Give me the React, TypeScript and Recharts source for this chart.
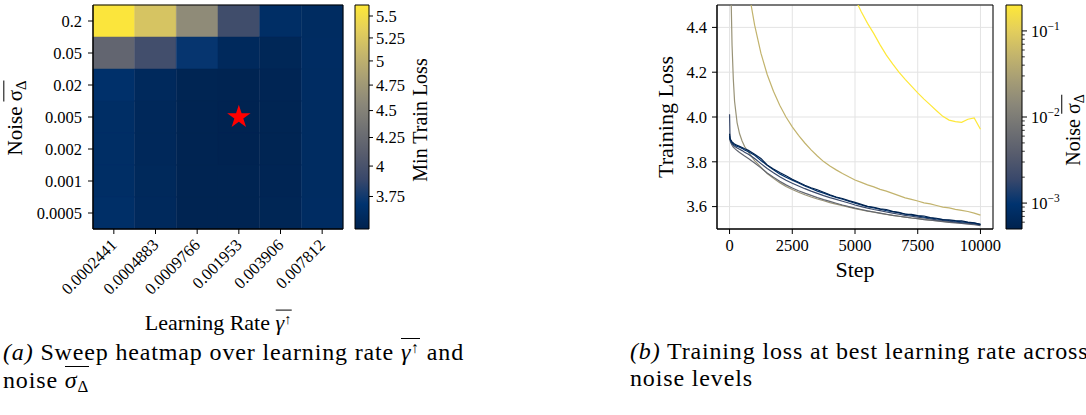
import React from 'react';
import {
  ScatterChart,
  ComposedChart,
  XAxis,
  YAxis,
  Scatter,
  Line,
  ReferenceArea,
  CartesianGrid,
  Symbols,
} from 'recharts';

const FONT = '"Liberation Serif", "Times New Roman", serif';

// ---------- (a) heatmap data ----------
const learningRates = ['0.0002441', '0.0004883', '0.0009766', '0.001953', '0.003906', '0.007812'];
const noiseLevels = ['0.2', '0.05', '0.02', '0.005', '0.002', '0.001', '0.0005'];
const minLossNoise0_2 = [5.6, 5.22, 4.6, 3.94, 3.63, 3.61];
const minLossNoise0_05 = [4.2, 3.95, 3.71, 3.58, 3.55, 3.615];
const minLossNoise0_02 = [3.66, 3.58, 3.53, 3.525, 3.535, 3.615];
const minLossNoise0_005 = [3.63, 3.57, 3.52, 3.515, 3.53, 3.61];
const minLossNoise0_002 = [3.63, 3.57, 3.52, 3.515, 3.53, 3.61];
const minLossNoise0_001 = [3.63, 3.575, 3.52, 3.52, 3.535, 3.61];
const minLossNoise0_0005 = [3.64, 3.58, 3.525, 3.525, 3.54, 3.615];
const bestLr = '0.001953';
const bestNoise = '0.005';
const lossColorTicks = [3.75, 4, 4.25, 4.5, 4.75, 5, 5.25, 5.5];
const lossColorDomain: [number, number] = [3.5, 5.63];

// ---------- (b) training loss curves ----------
const steps = [0, 20, 50, 100, 150, 200, 300, 400, 500, 600, 750, 1000, 1250, 1500, 1750, 2000, 2250, 2500, 2750, 3000, 3250, 3500, 3750, 4000, 4250, 4500, 4750, 5000, 5250, 5500, 5750, 6000, 6250, 6500, 6750, 7000, 7250, 7500, 7750, 8000, 8250, 8500, 8750, 9000, 9250, 9500, 9750, 10000];
const lossNoise0_0005 = [3.925, 3.905, 3.898, 3.889, 3.884, 3.879, 3.874, 3.869, 3.864, 3.858, 3.851, 3.834, 3.815, 3.786, 3.768, 3.752, 3.738, 3.722, 3.709, 3.695, 3.684, 3.675, 3.664, 3.653, 3.643, 3.636, 3.627, 3.619, 3.61, 3.601, 3.597, 3.59, 3.587, 3.579, 3.574, 3.567, 3.565, 3.56, 3.558, 3.551, 3.548, 3.542, 3.541, 3.537, 3.536, 3.531, 3.528, 3.521];
const lossNoise0_001 = [3.915, 3.9, 3.893, 3.885, 3.879, 3.875, 3.869, 3.865, 3.86, 3.853, 3.845, 3.829, 3.806, 3.784, 3.765, 3.746, 3.731, 3.718, 3.705, 3.692, 3.681, 3.669, 3.66, 3.65, 3.641, 3.633, 3.624, 3.615, 3.607, 3.6, 3.594, 3.588, 3.582, 3.577, 3.572, 3.566, 3.562, 3.558, 3.553, 3.549, 3.545, 3.542, 3.538, 3.535, 3.532, 3.529, 3.526, 3.521];
const lossNoise0_002 = [4.012, 3.905, 3.89, 3.88, 3.874, 3.869, 3.862, 3.856, 3.85, 3.843, 3.834, 3.815, 3.792, 3.77, 3.751, 3.733, 3.718, 3.704, 3.692, 3.68, 3.669, 3.659, 3.649, 3.64, 3.632, 3.624, 3.616, 3.607, 3.6, 3.593, 3.587, 3.582, 3.576, 3.571, 3.566, 3.561, 3.557, 3.553, 3.549, 3.545, 3.541, 3.538, 3.535, 3.531, 3.528, 3.526, 3.523, 3.518];
const lossNoise0_005 = [3.905, 3.895, 3.885, 3.874, 3.866, 3.86, 3.85, 3.842, 3.834, 3.826, 3.815, 3.795, 3.773, 3.75, 3.731, 3.713, 3.697, 3.683, 3.671, 3.66, 3.65, 3.64, 3.631, 3.623, 3.615, 3.607, 3.6, 3.593, 3.587, 3.581, 3.576, 3.571, 3.566, 3.561, 3.557, 3.553, 3.549, 3.546, 3.542, 3.539, 3.536, 3.533, 3.53, 3.527, 3.525, 3.522, 3.519, 3.515];
const lossNoise0_02 = [6.2, 5.1, 4.6, 4.32, 4.17, 4.07, 3.975, 3.925, 3.893, 3.868, 3.843, 3.805, 3.776, 3.748, 3.726, 3.707, 3.69, 3.676, 3.664, 3.653, 3.643, 3.634, 3.626, 3.618, 3.611, 3.604, 3.598, 3.591, 3.585, 3.58, 3.575, 3.57, 3.565, 3.561, 3.557, 3.553, 3.549, 3.546, 3.543, 3.54, 3.537, 3.534, 3.532, 3.529, 3.527, 3.525, 3.522, 3.519];
const lossNoise0_05 = [7.5, 7.0, 6.6, 6.2, 5.95, 5.75, 5.45, 5.2, 5.0, 4.8, 4.57, 4.41, 4.285, 4.19, 4.115, 4.052, 4.0, 3.956, 3.918, 3.884, 3.853, 3.826, 3.801, 3.781, 3.764, 3.748, 3.733, 3.719, 3.708, 3.697, 3.688, 3.677, 3.669, 3.659, 3.649, 3.639, 3.632, 3.625, 3.617, 3.612, 3.605, 3.598, 3.594, 3.588, 3.583, 3.578, 3.571, 3.562];
const lossNoise0_2 = [8.0, 7.8, 7.6, 7.4, 7.25, 7.1, 6.9, 6.7, 6.55, 6.4, 6.2, 6.0, 5.85, 5.7, 5.58, 5.46, 5.35, 5.25, 5.15, 5.06, 4.98, 4.9, 4.83, 4.76, 4.7, 4.64, 4.585, 4.528, 4.47, 4.418, 4.372, 4.322, 4.276, 4.237, 4.2, 4.168, 4.138, 4.108, 4.08, 4.054, 4.028, 4.003, 3.986, 3.979, 3.976, 3.99, 3.996, 3.945];
const stepTicks = [0, 2500, 5000, 7500, 10000];
const lossTicks = [3.6, 3.8, 4.0, 4.2, 4.4];
const noiseColorDomain: [number, number] = [0.0005, 0.2];
const noiseMajorTicks = [0.001, 0.01, 0.1];
const noiseMinorTicks = [0.0006, 0.0007, 0.0008, 0.0009, 0.002, 0.003, 0.004, 0.005, 0.006, 0.007, 0.008, 0.009, 0.02, 0.03, 0.04, 0.05, 0.06, 0.07, 0.08, 0.09];

// ---------- colour map (cividis) ----------
const CIVIDIS = [
  [0, 34, 78], [0, 51, 111], [57, 72, 107], [87, 92, 109], [112, 113, 115],
  [138, 135, 121], [166, 157, 117], [196, 181, 108], [228, 207, 91], [254, 232, 56],
];
function cividis(t: number): string {
  const tt = Math.max(0, Math.min(1, t));
  const p = tt * (CIVIDIS.length - 1);
  const i = Math.min(CIVIDIS.length - 2, Math.floor(p));
  const f = p - i;
  const a = CIVIDIS[i];
  const b = CIVIDIS[i + 1];
  const c = a.map((v, k) => Math.round(v + (b[k] - v) * f));
  return `rgb(${c[0]},${c[1]},${c[2]})`;
}
const logNorm = (v: number, d: [number, number]) => Math.log(v / d[0]) / Math.log(d[1] / d[0]);

const heatRows = [minLossNoise0_2, minLossNoise0_05, minLossNoise0_02, minLossNoise0_005, minLossNoise0_002, minLossNoise0_001, minLossNoise0_0005];
const heatCells = heatRows.flatMap((row, r) =>
  row.map((v, c) => ({ r, c, fill: cividis(logNorm(v, lossColorDomain)) }))
);
const starData = [{ x: learningRates.indexOf(bestLr) + 0.5, y: noiseLevels.indexOf(bestNoise) + 0.5 }];

const series = [
  { key: 'n0_2', noise: 0.2, values: lossNoise0_2 },
  { key: 'n0_05', noise: 0.05, values: lossNoise0_05 },
  { key: 'n0_02', noise: 0.02, values: lossNoise0_02 },
  { key: 'n0_005', noise: 0.005, values: lossNoise0_005 },
  { key: 'n0_002', noise: 0.002, values: lossNoise0_002 },
  { key: 'n0_001', noise: 0.001, values: lossNoise0_001 },
  { key: 'n0_0005', noise: 0.0005, values: lossNoise0_0005 },
];
const lossTable = steps.map((s, i) => {
  const row: Record<string, number> = { step: s };
  series.forEach((sr) => (row[sr.key] = sr.values[i]));
  return row;
});

const TICK_FS = 16.5;
const tickStyle = { fill: '#000', fontSize: TICK_FS, fontFamily: FONT };
const black = { stroke: '#000', strokeWidth: 1 };

const Over = ({ children }: { children: React.ReactNode }) => (
  <span style={{ display: 'inline-block', borderTop: '1.3px solid #000', lineHeight: 1, paddingTop: 1 }}>{children}</span>
);

const SigmaDelta = () => (
  <Over>
    <span>σ</span>
    <span style={{ fontSize: '0.7em', verticalAlign: '-0.25em' }}>Δ</span>
  </Over>
);

const RotTick = (props: any) => {
  const { x, y, payload } = props;
  return (
    <text
      transform={`translate(${x + 4},${y + 10}) rotate(-45)`}
      textAnchor="end"
      fill="#000"
      fontSize={TICK_FS}
      fontFamily={FONT}
    >
      {learningRates[Math.floor(payload.value)]}
    </text>
  );
};

const NoiseTick = (props: any) => {
  const { x, y, payload } = props;
  const v = payload.value;
  const major = noiseMajorTicks.some((m) => Math.abs(m - v) < 1e-12);
  const exp = Math.round(Math.log10(v));
  return (
    <g>
      <line x1={x} x2={x + (major ? 5 : 2.8)} y1={y} y2={y} stroke="#000" strokeWidth={major ? 1 : 0.8} />
      {major && (
        <text x={x + 9} y={y} dy="0.35em" fill="#000" fontSize={TICK_FS} fontFamily={FONT}>
          10
          <tspan dy={-7} fontSize={11.5}>{`\u2212${-exp}`}</tspan>
        </text>
      )}
    </g>
  );
};

const StarShape = (props: any) => (
  <Symbols cx={props.cx} cy={props.cy} type="star" size={170} fill="#ff0000" stroke="none" />
);

const abs = (l: number, t: number): React.CSSProperties => ({ position: 'absolute', left: l, top: t });

const RotLabel = ({ cx, cy, size, children }: { cx: number; cy: number; size: number; children: React.ReactNode }) => (
  <div
    style={{
      position: 'absolute',
      left: cx,
      top: cy,
      transform: 'translate(-50%,-50%) rotate(-90deg)',
      whiteSpace: 'nowrap',
      fontFamily: FONT,
      fontSize: size,
      color: '#000',
      lineHeight: 1,
    }}
  >
    {children}
  </div>
);

const captionStyle: React.CSSProperties = {
  position: 'absolute',
  top: 338,
  fontSize: 24,
  lineHeight: '27px',
  whiteSpace: 'nowrap',
  letterSpacing: 0.85,
};

export default function App() {
  const gradStops = CIVIDIS.map((c, i) => (
    <stop key={i} offset={`${(i / (CIVIDIS.length - 1)) * 100}%`} stopColor={`rgb(${c[0]},${c[1]},${c[2]})`} />
  ));
  return (
    <div style={{ position: 'absolute', left: 0, top: 0, width: 1086, height: 415, overflow: 'hidden', background: '#fff', fontFamily: FONT }}>
      <svg width={0} height={0} style={{ position: 'absolute' }}>
        <defs>
          <linearGradient id="cbGrad" x1="0" y1="1" x2="0" y2="0">
            {gradStops}
          </linearGradient>
        </defs>
      </svg>

      {/* (a) heatmap */}
      <div style={abs(0, 0)}>
        <ScatterChart width={400} height={300} margin={{ top: 5, right: 57, bottom: 0, left: 0 }}>
          <XAxis
            type="number"
            dataKey="x"
            domain={[0, learningRates.length]}
            ticks={learningRates.map((_, i) => i + 0.5)}
            interval={0}
            height={71}
            tickSize={5}
            tickMargin={2}
            tick={<RotTick />}
            tickLine={black}
            axisLine={black}
            allowDataOverflow
          />
          <YAxis
            type="number"
            dataKey="y"
            domain={[0, noiseLevels.length]}
            reversed
            ticks={noiseLevels.map((_, i) => i + 0.5)}
            interval={0}
            width={93}
            tickSize={5}
            tickMargin={6}
            tick={tickStyle}
            tickFormatter={(v: number) => noiseLevels[Math.floor(v)]}
            tickLine={black}
            axisLine={black}
            allowDataOverflow
          />
          {heatCells.map((cell) => (
            <ReferenceArea
              key={`${cell.r}-${cell.c}`}
              x1={cell.c}
              x2={cell.c + 1}
              y1={cell.r}
              y2={cell.r + 1}
              fill={cell.fill}
              fillOpacity={1}
              stroke={cell.fill}
              strokeWidth={0.5}
              ifOverflow="visible"
            />
          ))}
          <ReferenceArea x1={0} x2={learningRates.length} y1={0} y2={noiseLevels.length} fill="none" fillOpacity={0} stroke="#000" strokeWidth={1} ifOverflow="visible" />
          <Scatter data={starData} shape={StarShape} isAnimationActive={false} />
        </ScatterChart>
      </div>

      {/* (a) colour bar */}
      <div style={abs(340, 0)}>
        <ComposedChart width={100} height={300} data={[{ x: 0 }, { x: 1 }]} margin={{ top: 5, right: 0, bottom: 71, left: 15 }}>
          <XAxis type="number" dataKey="x" domain={[0, 1]} hide height={0} />
          <YAxis
            orientation="right"
            type="number"
            scale="log"
            domain={lossColorDomain}
            ticks={lossColorTicks}
            interval={0}
            width={71}
            tickSize={4}
            tickMargin={3}
            tick={tickStyle}
            tickLine={black}
            axisLine={false}
            allowDataOverflow
          />
          <ReferenceArea x1={0} x2={1} y1={lossColorDomain[0]} y2={lossColorDomain[1]} fill="url(#cbGrad)" fillOpacity={1} stroke="#000" strokeWidth={1} ifOverflow="visible" />
        </ComposedChart>
      </div>

      {/* (b) training loss */}
      <div style={abs(640, 0)}>
        <ComposedChart width={380} height={300} data={lossTable} margin={{ top: 5, right: 27, bottom: 0, left: 0 }}>
          <CartesianGrid stroke="#e3e3e3" strokeWidth={1} />
          <XAxis
            type="number"
            dataKey="step"
            domain={[-500, 10500]}
            ticks={stepTicks}
            interval={0}
            height={71}
            tickSize={5}
            tickMargin={5}
            tick={tickStyle}
            tickLine={black}
            axisLine={black}
            allowDataOverflow
          />
          <YAxis
            type="number"
            domain={[3.5, 4.5]}
            ticks={lossTicks}
            interval={0}
            width={77}
            tickSize={5}
            tickMargin={5}
            tick={tickStyle}
            tickFormatter={(v: number) => v.toFixed(1)}
            tickLine={black}
            axisLine={black}
            allowDataOverflow
          />
          {series.map((s) => (
            <Line
              key={s.key}
              type="linear"
              dataKey={s.key}
              stroke={cividis(logNorm(s.noise, noiseColorDomain))}
              strokeWidth={1.2}
              dot={false}
              activeDot={false}
              isAnimationActive={false}
            />
          ))}
          <ReferenceArea x1={-500} x2={10500} y1={3.5} y2={4.5} fill="none" fillOpacity={0} stroke="#000" strokeWidth={1} ifOverflow="visible" />
        </ComposedChart>
      </div>

      {/* (b) colour bar */}
      <div style={abs(990, 0)}>
        <ComposedChart width={96} height={300} data={[{ x: 0 }, { x: 1 }]} margin={{ top: 5, right: 0, bottom: 71, left: 16 }}>
          <XAxis type="number" dataKey="x" domain={[0, 1]} hide height={0} />
          <YAxis
            orientation="right"
            type="number"
            scale="log"
            domain={noiseColorDomain}
            ticks={[...noiseMinorTicks, ...noiseMajorTicks]}
            interval={0}
            width={64}
            tickSize={0}
            tickMargin={0}
            tick={<NoiseTick />}
            tickLine={false}
            axisLine={false}
            allowDataOverflow
          />
          <ReferenceArea x1={0} x2={1} y1={noiseColorDomain[0]} y2={noiseColorDomain[1]} fill="url(#cbGrad)" fillOpacity={1} stroke="#000" strokeWidth={1} ifOverflow="visible" />
        </ComposedChart>
      </div>

      {/* axis titles */}
      <RotLabel cx={16} cy={118} size={21}>
        Noise <SigmaDelta />
      </RotLabel>
      <div style={{ position: 'absolute', left: 218, top: 323, transform: 'translate(-50%,-50%)', whiteSpace: 'nowrap', fontSize: 22, lineHeight: 1.2 }}>
        Learning Rate{' '}
        <Over>
          <i>γ</i>
          <span style={{ fontSize: '0.65em', verticalAlign: '0.45em' }}>↑</span>
        </Over>
      </div>
      <RotLabel cx={420} cy={120} size={20}>Min Train Loss</RotLabel>
      <RotLabel cx={666} cy={117} size={22}>Training Loss</RotLabel>
      <div style={{ position: 'absolute', left: 855, top: 270, transform: 'translate(-50%,-50%)', whiteSpace: 'nowrap', fontSize: 22, lineHeight: 1.2 }}>
        Step
      </div>
      <RotLabel cx={1074} cy={130} size={20}>
        Noise <SigmaDelta />
      </RotLabel>

      {/* captions */}
      <div style={{ ...captionStyle, left: 3 }}>
        <i>(a)</i> Sweep heatmap over learning rate{' '}
        <Over>
          <i>γ</i>
          <span style={{ fontSize: '0.65em', verticalAlign: '0.45em' }}>↑</span>
        </Over>{' '}
        and
        <br />
        noise{' '}
        <Over>
          <i>σ</i>
          <span style={{ fontSize: '0.7em', verticalAlign: '-0.25em' }}>Δ</span>
        </Over>
      </div>
      <div style={{ ...captionStyle, left: 630 }}>
        <i>(b)</i> Training loss at best learning rate across
        <br />
        noise levels
      </div>
    </div>
  );
}
